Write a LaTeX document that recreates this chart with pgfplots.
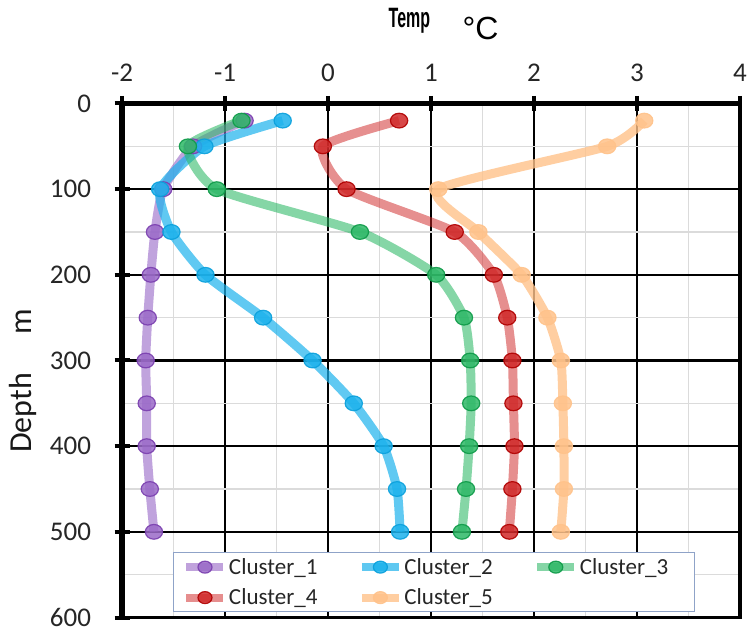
\documentclass[border=0pt]{standalone}
\usepackage{pgfplots}
\pgfplotsset{compat=1.18}
\usepackage{graphicx}
\usepackage{fontspec}
\setmainfont{Carlito}
\newfontfamily\arialfont{Liberation Sans}

\definecolor{cA}{HTML}{9A6AC8}\definecolor{cAe}{HTML}{7A3FAF}
\definecolor{cB}{HTML}{1CB2EC}\definecolor{cBe}{HTML}{0AA0DC}
\definecolor{cC}{HTML}{2DB866}\definecolor{cCe}{HTML}{0E9A48}
\definecolor{cD}{HTML}{D02828}\definecolor{cDe}{HTML}{B00000}
\definecolor{cE}{HTML}{FFC28A}\definecolor{cEe}{HTML}{FFC28A}
\definecolor{legbord}{HTML}{8FA3C8}

\pgfplotstableread{
depth c1 c2 c3 c4 c5
20 -0.81 -0.44 -0.84 0.69 3.07
50 -1.31 -1.20 -1.36 -0.05 2.71
100 -1.60 -1.63 -1.08 0.18 1.07
150 -1.68 -1.52 0.31 1.23 1.46
200 -1.72 -1.19 1.05 1.61 1.88
250 -1.75 -0.63 1.32 1.74 2.13
300 -1.77 -0.15 1.38 1.79 2.26
350 -1.76 0.25 1.39 1.80 2.28
400 -1.76 0.54 1.37 1.81 2.29
450 -1.73 0.67 1.34 1.79 2.29
500 -1.69 0.70 1.30 1.76 2.26
}\datatable

\pgfplotsset{
 ser/.style n args={3}{color=#1, line width=9pt, draw opacity=#3, smooth, tension=0.35,
   mark=*, mark size=8pt,
   mark options={solid, draw=#2, fill=#1, line width=1.2pt, draw opacity=0.9, fill opacity=0.85, xscale=1.08, yscale=0.92}},
}

\begin{document}
\begin{tikzpicture}
\begin{axis}[
 width=618pt, height=514pt, scale only axis,
 xmin=-2, xmax=4, ymin=0, ymax=600, y dir=reverse,
 clip=false,
 xtick={-2,-1,0,1,2,3,4},
 xticklabels={-2,-1,0,1,2,3,4},
 ytick={0,100,200,300,400,500,600},
 yticklabels={0,100,200,300,400,500,600},
 minor xtick={-1.5,-0.5,0.5,1.5,2.5,3.5},
 minor ytick={50,150,250,350,450,550},
 grid=both,
 major grid style={black, line width=2.5pt},
 minor grid style={black!14, line width=1.3pt},
 axis line style={black, line width=3.5pt},
 major tick style={black, line width=4pt},
 minor tick length=0pt,
 major tick length=15pt, tick align=center,
 xtick pos=upper, ytick pos=left,
 xticklabel pos=upper,
 ticklabel style={font=\fontsize{27}{30}\selectfont, text=black!85},
 xticklabel style={yshift=11pt},
 yticklabel style={xshift=-20pt},
 legend columns=3,
 legend cell align=left,
 legend style={at={(axis cs:-1.505,524)}, anchor=north west,
   draw=legbord, line width=1pt, fill=white,
   font=\fontsize{23}{26}\selectfont,
   inner xsep=9pt, inner ysep=4pt,
   row sep=10pt,
   nodes={inner sep=1.5pt, text=black!85},
   /tikz/every even column/.append style={column sep=39pt}},
 legend image code/.code={
   \draw[#1, line width=8pt, mark=none] (0pt,0pt) -- (37pt,0pt);
   \draw[#1, mark size=6.5pt] plot coordinates {(18.5pt,0pt)};
 },
]
\addplot[ser={cA}{cAe}{0.62}] table[x=c1, y=depth] {\datatable};
\addlegendentry{Cluster\_1}
\addplot[ser={cB}{cBe}{0.7}] table[x=c2, y=depth] {\datatable};
\addlegendentry{Cluster\_2}
\addplot[ser={cC}{cCe}{0.58}] table[x=c3, y=depth] {\datatable};
\addlegendentry{Cluster\_3\rule{16pt}{0pt}}
\addplot[ser={cD}{cDe}{0.52}] table[x=c4, y=depth] {\datatable};
\addlegendentry{Cluster\_4}
\addplot[ser={cE}{cEe}{0.8}] table[x=c5, y=depth] {\datatable};
\addlegendentry{Cluster\_5}

\draw[black, line width=5.5pt] (axis cs:-2,600) -- (axis cs:-2,0) -- (axis cs:4,0);

\node[font=\arialfont\bfseries\fontsize{28}{30}\selectfont] at (axis cs:0.79,-97) {\scalebox{0.57}[1]{Temp}};
\node[font=\arialfont\fontsize{32}{34}\selectfont] at (axis cs:1.48,-88) {°C};
\node[rotate=90, font=\fontsize{32}{34}\selectfont, text=black!90] at (axis cs:-2.96,324) {Depth\hspace{38pt}m};

\coordinate (bbA) at (axis cs:-3.1845,-120.8);
\coordinate (bbB) at (axis cs:4.087,614.6);
\end{axis}
\pgfresetboundingbox
\path (bbA) rectangle (bbB);
\end{tikzpicture}
\end{document}
